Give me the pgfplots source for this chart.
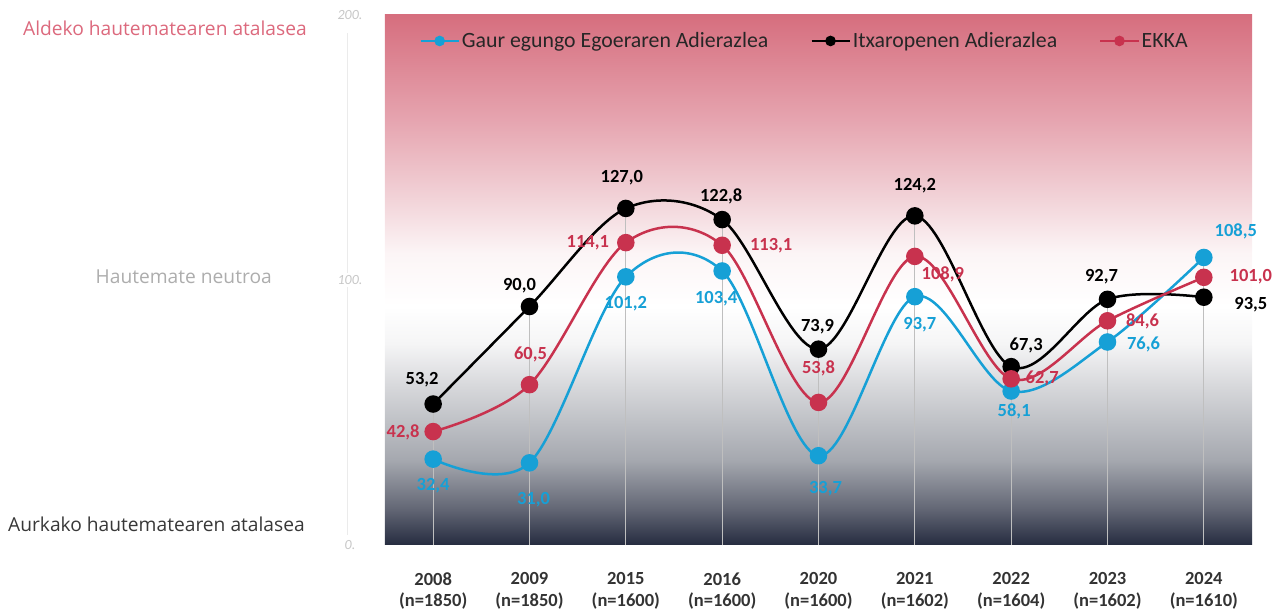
\documentclass[border=0pt]{standalone}
\usepackage{fontspec}
\setmainfont{Carlito}
\newfontfamily\osans{Open Sans}
\usepackage{pgfplots}
\pgfplotsset{compat=1.18}
\usepackage{pgfplotstable}

\definecolor{cblue}{RGB}{22,160,214}
\definecolor{cred}{RGB}{200,50,78}
\definecolor{bgA}{RGB}{38,44,64}
\definecolor{bgB}{RGB}{100,104,118}
\definecolor{bgC}{RGB}{165,168,175}
\definecolor{bgD}{RGB}{215,216,219}
\definecolor{bgE}{RGB}{245,245,246}
\definecolor{bgF}{RGB}{255,255,255}
\definecolor{bgG}{RGB}{252,245,246}
\definecolor{bgH}{RGB}{242,212,217}
\definecolor{bgJ}{RGB}{230,165,176}
\definecolor{bgI}{RGB}{214,110,126}
\definecolor{lblred}{RGB}{220,105,125}

\pgfdeclareverticalshading{chartbg}{100bp}{%
 color(0bp)=(bgA); color(25bp)=(bgA); color(28.5bp)=(bgB); color(33bp)=(bgC);
 color(40bp)=(bgD); color(44bp)=(bgE); color(47.5bp)=(bgF); color(52.5bp)=(bgG);
 color(57.5bp)=(bgH); color(65bp)=(bgJ); color(75bp)=(bgI); color(100bp)=(bgI)}

\pgfplotstableread{
x y dx dy
0 32.4 0 -27
1 31.0 4 -37
2 101.2 0 -27
3 103.4 -6 -28
4 33.7 7 -33
5 93.7 5 -28
6 58.1 3 -20
7 76.6 36 -2
8 108.5 32 26
}\blueT

\pgfplotstableread{
x y dx dy
0 53.2 -11 24
1 90.0 -10 21
2 127.0 -4 31
3 122.8 -1 23
4 73.9 -1 22
5 124.2 0 30
6 67.3 15 21
7 92.7 -6 23
8 93.5 47 -7
}\blackT

\pgfplotstableread{
x y dx dy
0 42.8 -30 -1
1 60.5 1 30
2 114.1 -38 0
3 113.1 49 0
4 53.8 0 34
5 108.9 28 -18
6 62.7 31 0
7 84.6 35 -1
8 101.0 47 1
}\redT

\pgfplotstableread{
x m
0 53.2
1 90.0
2 127.0
3 122.8
4 73.9
5 124.2
6 67.3
7 92.7
8 108.5
}\dropT

\pgfplotsset{
  series/.style={line width=2.5pt, smooth, tension=0.55, mark=*, mark size=7.5pt,
    visualization depends on={\thisrow{dx}\as\lblx},
    visualization depends on={\thisrow{dy}\as\lbly},
    nodes near coords,
    every node near coord/.append style={anchor=center, xshift=\lblx pt, yshift=\lbly pt, font=\fontsize{18.5}{20}\selectfont\bfseries, text=#1},
    color=#1},
}

\begin{document}
\begin{tikzpicture}
\useasboundingbox (-385pt,-67pt) rectangle (895pt,545pt);
\draw[black!8, line width=1pt] (-37pt,10pt) -- (-37pt,512pt);
\node[anchor=east, inner sep=0pt, text=lblred, font=\osans\fontsize{19.2}{24}\selectfont] at (-78pt,517pt) {Aldeko hautematearen atalasea};
\node[anchor=east, inner sep=0pt, text=black!32, font=\osans\fontsize{19.2}{24}\selectfont] at (-113pt,268pt) {Hautemate neutroa};
\node[anchor=east, inner sep=0pt, text=black!78, font=\osans\fontsize{19.2}{24}\selectfont] at (-80pt,21pt) {Aurkako hautematearen atalasea};
\begin{axis}[
  at={(0pt,0pt)}, anchor=south west,
  scale only axis, width=867pt, height=530pt,
  xmin=-0.5, xmax=8.5, ymin=0, ymax=200,
  clip=false,
  axis line style={draw=none},
  axis background/.style={shade, shading=chartbg},
  major tick length=0pt,
  xtick={0,...,8},
  xticklabels={{2008\\(n=1850)},{2009\\(n=1850)},{2015\\(n=1600)},{2016\\(n=1600)},{2020\\(n=1600)},{2021\\(n=1602)},{2022\\(n=1604)},{2023\\(n=1602)},{2024\\(n=1610)}},
  xticklabel style={align=center, font=\fontsize{18.5}{21.5}\selectfont\bfseries, text=black!80, yshift=-24pt},
  ytick={0,100,200},
  yticklabels={0.,100.,200.},
  yticklabel style={font=\fontsize{14}{16}\selectfont\itshape, text=black!22, anchor=center, xshift=-35pt, fill=white, inner sep=2pt},
  /pgf/number format/.cd, fixed, fixed zerofill, precision=1, use comma, assume math mode=true,
  /pgfplots/.cd,
  legend style={at={(0.036,0.951)}, anchor=west, draw=none, fill=none,
    font=\fontsize{21.8}{24}\selectfont, text=black!85,
    /tikz/every even column/.append style={column sep=40pt}},
  legend columns=3,
  legend cell align=left,
  legend image code/.code={\draw[#1, line width=2.5pt, mark size=4pt, mark repeat=2, mark phase=2] plot coordinates {(0pt,0pt) (19pt,0pt) (38pt,0pt)};},
]
\addplot[ycomb, draw=black!25, line width=0.8pt, mark=none, forget plot] table[x=x,y=m] {\dropT};
\addplot[series=cblue] table[x=x,y=y] {\blueT};
\addlegendentry{Gaur egungo Egoeraren Adierazlea}
\addplot[series=black] table[x=x,y=y] {\blackT};
\addlegendentry{Itxaropenen Adierazlea}
\addplot[series=cred] table[x=x,y=y] {\redT};
\addlegendentry{EKKA}
\end{axis}
\end{tikzpicture}
\end{document}
